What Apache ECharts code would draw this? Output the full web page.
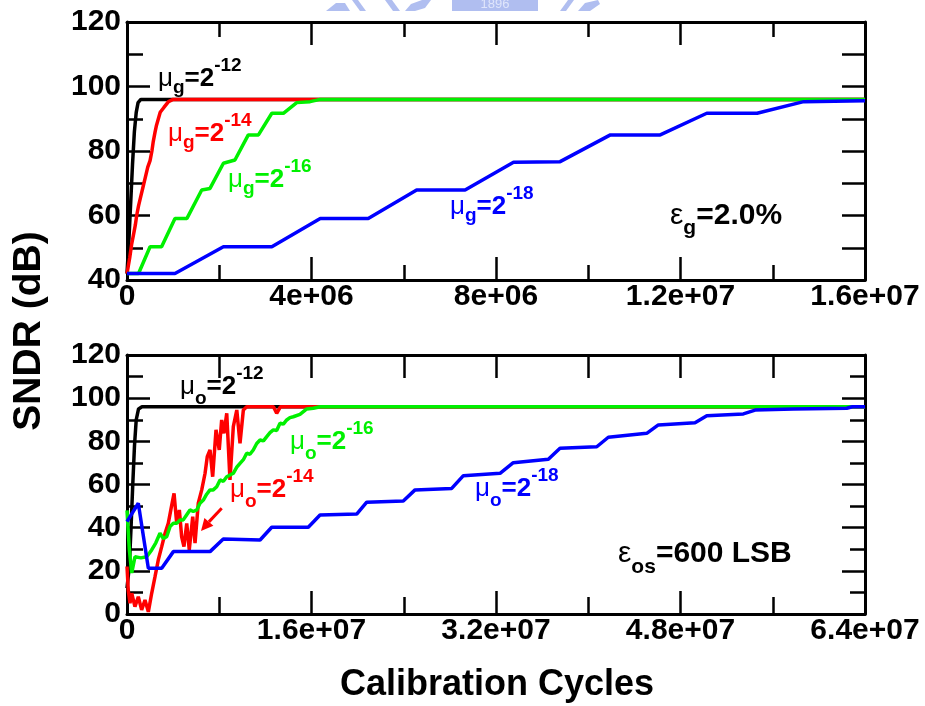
<!DOCTYPE html>
<html>
<head>
<meta charset="utf-8">
<script src="https://cdn.jsdelivr.net/npm/echarts@6/dist/echarts.min.js"></script>
<style>
  html, body { margin: 0; padding: 0; background: #fff; }
  #main { width: 925px; height: 706px; }
</style>
</head>
<body>
<div id="main"></div>
<script>
// x values are calibration cycles in units of 1e6, y values are SNDR in dB

// Upper panel: gain error calibration (eps_g = 2.0%)
const gainMu12 = [[0,42],[0.04,52],[0.08,64],[0.12,76],[0.16,86],[0.2,92],[0.24,95],[0.3,96],[16,96]];
const gainMu14 = [[0,42],[0.03,42],[0.06,47],[0.1,51],[0.14,54],[0.18,57],[0.21,60],[0.25,63],[0.3,66],[0.35,69],
  [0.4,72],[0.45,75],[0.5,77],[0.54,80],[0.57,83],[0.61,86],[0.64,88],[0.68,90],[0.72,92],[0.8,93.5],[0.9,95.3],[1.0,96],[16,96]];
const gainMu16 = [[0,42],[0.25,42],[0.5,50.3],[0.75,50.3],[1.04,59.1],[1.3,59.1],[1.62,67.9],[1.8,68.4],[2.09,76.2],
  [2.34,77.2],[2.63,85],[2.85,85],[3.14,91.7],[3.39,91.7],[3.68,95],[3.97,95.3],[4.19,96],[16,96]];
const gainMu18 = [[0,42],[1.04,42],[2.09,50.3],[3.14,50.3],[4.19,59.1],[5.23,59.1],[6.28,67.9],[7.33,67.9],[8.38,76.5],
  [9.39,76.7],[10.48,85],[11.56,85],[12.57,91.7],[13.66,91.7],[14.67,95.3],[16,95.6]];

// Lower panel: offset error calibration (eps_os = 600 LSB)
const offsetMu12 = [[0,12],[0.2,22],[0.35,40],[0.5,60],[0.65,78],[0.8,90],[1.0,95],[1.3,96],[64,96]];
const offsetMu14 = [[0,22],[0.11,11],[0.26,5],[0.41,9.6],[0.69,3.4],[0.98,8],[1.27,1.9],[1.56,6.5],[1.85,1],[2.14,9.6],
  [2.43,17.3],[2.71,25],[3.01,31.2],[3.3,37.4],[3.58,42],[3.88,50.5],[4.08,55.9],[4.31,42],[4.54,48.2],[4.74,35.8],
  [4.94,31.2],[5.18,42],[5.4,29.7],[5.7,45.1],[5.9,32.8],[6.18,51.3],[6.48,57.5],[6.77,65.2],[6.96,72.9],[7.2,76],
  [7.43,63.6],[7.72,85.3],[8.0,76],[8.21,89.9],[8.41,83.7],[8.65,93],[8.93,62.1],[9.22,86.8],[9.52,94.5],[9.8,79.1],
  [10.09,94.5],[10.38,96],[12.7,96],[12.98,93],[13.3,96],[64,96]];
const offsetMu16 = [[0,48],[0.2,30],[0.41,19],[0.69,26.5],[1.2,26],[1.71,26.5],[2.14,29.7],[2.5,33],[2.86,37.4],[3.15,35],
  [3.44,35.8],[3.73,40.5],[4.02,42],[4.31,42],[4.6,43.6],[4.88,43.6],[5.18,46],[5.46,48.2],[5.75,47.5],[6.05,48.2],
  [6.33,51.3],[6.62,52.8],[6.91,55.5],[7.2,57.5],[7.48,57.5],[7.78,59],[8.07,62.1],[8.36,61.5],[8.65,63.6],[9.22,65.2],
  [9.52,68],[9.8,69.8],[10.09,71.5],[10.38,74.5],[10.66,74],[10.95,76],[11.25,79],[11.54,80.6],[11.83,80.2],[12.12,82.2],
  [12.4,84],[12.69,85.3],[12.98,85],[13.27,88.4],[13.56,88],[13.85,89.9],[14.13,91],[14.42,91.4],[15.0,92.5],[15.59,95],
  [16.16,95.3],[16.74,96],[64,96]];
const offsetMu18 = [[0,42.8],[0.98,51.3],[1.85,21.2],[3.01,21.2],[4.02,28.9],[7.2,28.9],[8.35,34.8],[11.54,34.3],
  [12.55,40.2],[15.72,40.2],[16.74,45.9],[19.92,46.3],[20.79,51.8],[23.96,52.4],[24.98,57.5],[28.16,58.2],[29.17,64.1],
  [32.35,65.2],[33.5,70.1],[36.54,71.7],[37.55,76.8],[40.74,77.5],[41.74,81.9],[45.07,83.7],[46.08,87.6],[49.26,88.6],
  [50.28,91.8],[53.45,92.7],[54.47,94.5],[57.79,95],[62.42,95.3],[62.9,96],[64,96]];

// tick labels
const topXLabels = ['0', '4e+06', '8e+06', '1.2e+07', '1.6e+07'];
const bottomXLabels = ['0', '1.6e+07', '3.2e+07', '4.8e+07', '6.4e+07'];
const topYLabels = ['40', '60', '80', '100', '120'];
const bottomYLabels = ['0', '20', '40', '60', '80', '100', '120'];

const FONT = '"Liberation Sans", Arial, Helvetica, sans-serif';
const BLACK = '#000000', RED = '#ff0000', GREEN = '#00f000', BLUE = '#0000ff';

const chart = echarts.init(document.getElementById('main'), null, { renderer: 'canvas' });

const tickStyle = { color: '#000', width: 2.5 };
const lineStyleAxis = { show: true, onZero: false, lineStyle: { color: '#000', width: 3 } };
const labelStyle = { fontFamily: FONT, fontWeight: 'bold', fontSize: 30, color: '#000' };

function xAxisDef(grid, pos, max, interval, labels, majorLen, minorLen) {
  return {
    type: 'value', gridIndex: grid, position: pos, min: 0, max: max, interval: interval,
    axisLine: lineStyleAxis, splitLine: { show: false },
    axisTick: { show: true, inside: true, length: majorLen, lineStyle: tickStyle },
    minorTick: { show: minorLen > 0, splitNumber: 2, length: minorLen, lineStyle: tickStyle },
    axisLabel: labels ? Object.assign({
      show: true, margin: 2, showMinLabel: true, showMaxLabel: true, hideOverlap: false,
      formatter: v => labels[Math.round(v / interval)]
    }, labelStyle) : { show: false }
  };
}
function yAxisDef(grid, pos, min, max, interval, labels, majorLen, minorLen) {
  return {
    type: 'value', gridIndex: grid, position: pos, min: min, max: max, interval: interval,
    axisLine: lineStyleAxis, splitLine: { show: false },
    axisTick: { show: true, inside: true, length: majorLen, lineStyle: tickStyle },
    minorTick: { show: minorLen > 0, splitNumber: 2, length: minorLen, lineStyle: tickStyle },
    axisLabel: labels ? Object.assign({
      show: true, margin: 6, showMinLabel: true, showMaxLabel: true, hideOverlap: false,
      formatter: v => labels[Math.round((v - min) / interval)]
    }, labelStyle) : { show: false }
  };
}

function curve(data, color, idx) {
  return {
    type: 'line', data: data, xAxisIndex: idx, yAxisIndex: idx,
    showSymbol: false, symbol: 'none', smooth: false, clip: true,
    lineStyle: { color: color, width: 3.5 }, emphasis: { disabled: true }
  };
}

// text helper: places base text, subscripts and superscripts along one baseline
const mctx = document.createElement('canvas').getContext('2d');
function textWidth(font, s) { mctx.font = font; return mctx.measureText(s).width; }
function richLabel(x, baseline, color, parts) {
  const els = [];
  let cx = x;
  parts.forEach(p => {
    const font = (p.weight || 'bold') + ' ' + p.size + 'px ' + FONT;
    els.push({
      type: 'text', z: 100,
      style: {
        text: p.text, x: cx, y: baseline + (p.shift || 0) - 0.32 * p.size,
        font: font, fill: color, align: 'left', verticalAlign: 'middle'
      }
    });
    cx += textWidth(font, p.text) + (p.gap || 0);
  });
  return els;
}
function muLabel(x, baseline, color, sub, exp) {
  return richLabel(x, baseline, color, [
    { text: '\u03bc', size: 26, weight: 'normal' },
    { text: sub, size: 19, shift: sub === 'g' ? 7 : 10 },
    { text: '=2', size: 26 },
    { text: exp, size: 19, shift: -15 }
  ]);
}

const graphics = [].concat(
  muLabel(158, 87, BLACK, 'g', '-12'),
  muLabel(168, 142, RED, 'g', '-14'),
  muLabel(228, 188, GREEN, 'g', '-16'),
  muLabel(450, 215, BLUE, 'g', '-18'),
  richLabel(670, 225, BLACK, [
    { text: '\u03b5', size: 30, weight: 'normal' },
    { text: 'g', size: 21, shift: 10 },
    { text: '=2.0%', size: 30 }
  ]),
  muLabel(180, 395, BLACK, 'o', '-12'),
  muLabel(290, 450, GREEN, 'o', '-16'),
  muLabel(230, 498, RED, 'o', '-14'),
  muLabel(475, 497, BLUE, 'o', '-18'),
  richLabel(618, 563, BLACK, [
    { text: '\u03b5', size: 30, weight: 'normal' },
    { text: 'os', size: 21, shift: 11 },
    { text: '=600 LSB', size: 30 }
  ])
);

// red arrow pointing at the mu_o = 2^-14 curve
graphics.push({
  type: 'line', z: 100,
  shape: { x1: 221.7, y1: 508.3, x2: 208.9, y2: 521.9 },
  style: { stroke: RED, lineWidth: 3 }
});
graphics.push({
  type: 'polygon', z: 100,
  shape: { points: [[201, 531], [213.4, 525.8], [204.4, 518.0]] },
  style: { fill: RED }
});

// axis titles
graphics.push({
  type: 'text', z: 100,
  style: { text: 'Calibration Cycles', x: 497, y: 685, font: 'bold 36px ' + FONT, fill: '#000', align: 'center', verticalAlign: 'middle' }
});
graphics.push({
  type: 'text', z: 100, x: 29, y: 331, rotation: Math.PI / 2,
  style: { text: 'SNDR (dB)', x: 0, y: 0, font: 'bold 39px ' + FONT, fill: '#000', align: 'center', verticalAlign: 'middle' }
});

// faint university emblem strip along the top edge
const wm = '#b0bef0';
[
  [[326, 11], [336, 3], [345, 3], [350, 11]],
  [[352, 0], [358, 0], [366, 11], [360, 11]],
  [[385, 0], [392, 0], [400, 11], [393, 11]],
  [[405, 11], [411, 4], [422, 0], [431, 0], [425, 8], [415, 11]],
  [[560, 11], [568, 0], [574, 0], [566, 11]],
  [[578, 11], [585, 3], [598, 0], [600, 4], [590, 11]]
].forEach(pts => graphics.push({ type: 'polygon', z: 0, shape: { points: pts }, style: { fill: wm } }));
graphics.push({ type: 'rect', z: 0, shape: { x: 452, y: 0, width: 86, height: 11 }, style: { fill: wm } });
graphics.push({
  type: 'text', z: 1,
  style: { text: '1896', x: 495, y: 4, font: '13px ' + FONT, fill: '#dfe5fb', align: 'center', verticalAlign: 'middle' }
});

chart.setOption({
  animation: false,
  backgroundColor: '#ffffff',
  grid: [
    { left: 127, top: 22, width: 738, height: 258 },
    { left: 127, top: 355, width: 738, height: 259 }
  ],
  xAxis: [
    xAxisDef(0, 'bottom', 16, 4, topXLabels, 23, 15),
    xAxisDef(0, 'top', 16, 4, null, 23, 15),
    xAxisDef(1, 'bottom', 64, 16, bottomXLabels, 23, 17),
    xAxisDef(1, 'top', 64, 8, null, 23, 0)
  ],
  yAxis: [
    yAxisDef(0, 'left', 40, 120, 20, topYLabels, 23, 16),
    yAxisDef(0, 'right', 40, 120, 10, null, 23, 0),
    yAxisDef(1, 'left', 0, 120, 20, bottomYLabels, 23, 16),
    yAxisDef(1, 'right', 0, 120, 20, null, 23, 15)
  ],
  series: [
    curve(gainMu12, BLACK, 0),
    curve(gainMu14, RED, 0),
    curve(gainMu16, GREEN, 0),
    curve(gainMu18, BLUE, 0),
    curve(offsetMu12, BLACK, 2),
    curve(offsetMu14, RED, 2),
    curve(offsetMu16, GREEN, 2),
    curve(offsetMu18, BLUE, 2)
  ],
  graphic: { elements: graphics }
});
</script>
</body>
</html>
